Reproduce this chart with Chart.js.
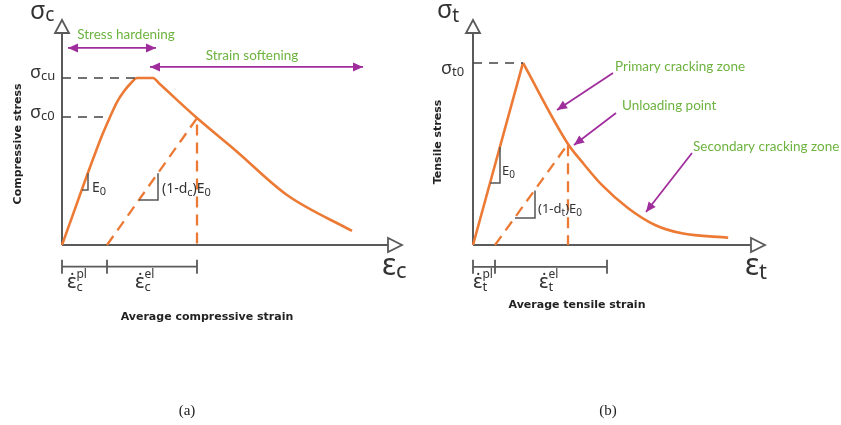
<!DOCTYPE html>
<html>
<head>
<meta charset="utf-8">
<title>Concrete damaged plasticity - stress/strain</title>
<script src="https://cdn.jsdelivr.net/npm/chart.js@4.4.3/dist/chart.umd.js"></script>
<style>
    html, body { margin: 0; padding: 0; background: #fff; }
    #wrap { position: relative; width: 841px; height: 425px; overflow: hidden; }
    #chartA { position: absolute; left: 0; top: 0; }
    #chartB { position: absolute; left: 420px; top: 0; }
</style>
</head>
<body>
<div id="wrap">
    <canvas id="chartA" width="420" height="425"></canvas>
    <canvas id="chartB" width="421" height="425"></canvas>
</div>

<script>
    // (a) compression, stress normalised so sigma_cu = 1
    const compStrain = [0, 0.80, 0.96, 1.10, 1.24, 1.38, 1.50, 1.82, 1.95, 2.70, 3.46, 4.50, 5.80];
    const compStress = [0, 0.655, 0.766, 0.856, 0.920, 0.970, 1.0, 1.0, 0.965, 0.760, 0.569, 0.299, 0.084];
    const compUnloadStrain = [0.9, 2.7, 2.7];
    const compUnloadStress = [0, 0.76, 0];
    const sigmaCu = 1.0;
    const sigmaC0 = 0.766;

    // (b) tension, stress normalised so sigma_t0 = 1
    const tensRiseStrain = [0, 1.25];
    const tensRiseStress = [0, 1.0];
    const tensSoftStrain = [1.25, 2.375, 2.72, 3.22, 3.88, 4.55, 5.22, 6.38];
    const tensSoftStress = [1.0, 0.555, 0.458, 0.330, 0.202, 0.110, 0.064, 0.040];
    const tensUnloadStrain = [0.55, 2.375, 2.375];
    const tensUnloadStress = [0, 0.555, 0];
    const sigmaT0 = 1.0;

    const ORANGE = '#EC7A35';
    const PURPLE = '#A02D9C';
    const GREEN = '#6DB33F';
    const AXIS = '#5a5a5a';
    const INK = '#333';

    function pts(xs, ys) {
        return xs.map((x, i) => ({ x: x, y: ys[i] }));
    }

    // draw a run of text pieces (base, sub, sup) left to right
    function runs(ctx, x, y, list, color) {
        ctx.fillStyle = color || INK;
        ctx.textAlign = 'left';
        ctx.textBaseline = 'alphabetic';
        let cx = x, lastX = x;
        list.forEach(r => {
            ctx.font = (r.w || '') + ' ' + r.s + 'px "Noto Sans"';
            const startX = r.stack ? lastX : cx;
            ctx.fillText(r.t, startX, y + (r.dy || 0));
            lastX = startX;
            cx = Math.max(cx, startX + ctx.measureText(r.t).width);
        });
    }

    function arrowHead(ctx, x1, y1, x2, y2) {
        const a = Math.atan2(y2 - y1, x2 - x1);
        const len = 10, hw = 4.5;
        ctx.beginPath();
        ctx.moveTo(x2, y2);
        ctx.lineTo(x2 - len * Math.cos(a) + hw * Math.sin(a), y2 - len * Math.sin(a) - hw * Math.cos(a));
        ctx.lineTo(x2 - len * Math.cos(a) - hw * Math.sin(a), y2 - len * Math.sin(a) + hw * Math.cos(a));
        ctx.closePath();
        ctx.fill();
    }

    function arrow(ctx, p, q, both) {
        ctx.strokeStyle = PURPLE;
        ctx.fillStyle = PURPLE;
        ctx.lineWidth = 1.8;
        ctx.beginPath();
        ctx.moveTo(p[0], p[1]);
        ctx.lineTo(q[0], q[1]);
        ctx.stroke();
        arrowHead(ctx, p[0], p[1], q[0], q[1]);
        if (both) arrowHead(ctx, q[0], q[1], p[0], p[1]);
    }

    // axes, slope triangles, bracket and labels, all placed through the scales
    const decorPlugin = {
        id: 'decor',
        beforeDatasetsDraw(chart) {
            const ctx = chart.ctx, xs = chart.scales.x, ys = chart.scales.y;
            const x0 = xs.getPixelForValue(0), y0 = ys.getPixelForValue(0);
            const xt = xs.getPixelForValue(xs.max), yt = ys.getPixelForValue(ys.max);
            ctx.save();
            ctx.strokeStyle = AXIS;
            ctx.lineWidth = 2;
            ctx.beginPath();
            ctx.moveTo(x0, y0);
            ctx.lineTo(x0, yt + 13);
            ctx.moveTo(x0, y0);
            ctx.lineTo(xt - 14, y0);
            ctx.stroke();
            ctx.fillStyle = '#fff';
            ctx.lineWidth = 1.8;
            ctx.beginPath();
            ctx.moveTo(x0, yt);
            ctx.lineTo(x0 - 7, yt + 13);
            ctx.lineTo(x0 + 7, yt + 13);
            ctx.closePath();
            ctx.fill();
            ctx.stroke();
            ctx.beginPath();
            ctx.moveTo(xt, y0);
            ctx.lineTo(xt - 14, y0 - 7);
            ctx.lineTo(xt - 14, y0 + 7);
            ctx.closePath();
            ctx.fill();
            ctx.stroke();
            ctx.restore();
        },
        afterDatasetsDraw(chart, args, opts) {
            const ctx = chart.ctx, xs = chart.scales.x, ys = chart.scales.y;
            const P = (x, y) => [xs.getPixelForValue(x), ys.getPixelForValue(y)];
            ctx.save();

            // slope triangles
            ctx.strokeStyle = '#555';
            ctx.lineWidth = 1.5;
            opts.triangles.forEach(tri => {
                ctx.beginPath();
                tri.forEach((p, i) => {
                    const q = P(p[0], p[1]);
                    if (i === 0) ctx.moveTo(q[0], q[1]); else ctx.lineTo(q[0], q[1]);
                });
                ctx.stroke();
            });

            // strain bracket under the axis
            const b = opts.bracket;
            const by = ys.getPixelForValue(b.y);
            ctx.strokeStyle = AXIS;
            ctx.lineWidth = 1.8;
            ctx.beginPath();
            ctx.moveTo(xs.getPixelForValue(b.ticks[0]), by);
            ctx.lineTo(xs.getPixelForValue(b.ticks[b.ticks.length - 1]), by);
            b.ticks.forEach(t => {
                const tx = xs.getPixelForValue(t);
                ctx.moveTo(tx, by - 7);
                ctx.lineTo(tx, by + 7);
            });
            ctx.stroke();

            // symbol labels
            opts.symbols.forEach(s => {
                const q = P(s.at[0], s.at[1]);
                runs(ctx, q[0], q[1], s.runs);
            });

            // purple arrows
            opts.arrows.forEach(a => {
                arrow(ctx, P(a.from[0], a.from[1]), P(a.to[0], a.to[1]), a.both);
            });

            // green notes
            ctx.fillStyle = GREEN;
            ctx.font = '13.5px Lato';
            ctx.textBaseline = 'middle';
            opts.notes.forEach(n => {
                const q = P(n.at[0], n.at[1]);
                ctx.textAlign = n.align || 'left';
                ctx.fillText(n.text, q[0], q[1]);
            });

            // axis titles
            ctx.fillStyle = '#222';
            ctx.font = 'bold 11px "DejaVu Sans"';
            ctx.textAlign = 'center';
            let q = P(opts.xTitle.at[0], opts.xTitle.at[1]);
            ctx.fillText(opts.xTitle.text, q[0], q[1]);
            q = P(opts.yTitle.at[0], opts.yTitle.at[1]);
            ctx.save();
            ctx.translate(q[0], q[1]);
            ctx.rotate(-Math.PI / 2);
            ctx.fillText(opts.yTitle.text, 0, 0);
            ctx.restore();

            // panel caption
            ctx.fillStyle = '#222';
            ctx.font = '15px "Liberation Serif"';
            q = P(opts.caption.at[0], opts.caption.at[1]);
            ctx.fillText(opts.caption.text, q[0], q[1]);

            ctx.restore();
        }
    };

    const curve = (data, mono) => ({
        data: data, showLine: true, pointRadius: 0, borderColor: ORANGE, borderWidth: 2.6,
        cubicInterpolationMode: mono ? 'monotone' : 'default', tension: 0, clip: false
    });
    const dashed = (data, color, width, dash) => ({
        data: data, showLine: true, pointRadius: 0, borderColor: color, borderWidth: width,
        borderDash: dash, clip: false
    });

    const EPS_DOT = 'ε\u0307';

    // ---------- (a) compression ----------
    new Chart(document.getElementById('chartA'), {
        type: 'scatter',
        data: {
            datasets: [
                dashed(pts([0, 1.5], [sigmaCu, sigmaCu]), '#444', 1.6, [9, 7]),
                dashed(pts([0, 0.95], [sigmaC0, sigmaC0]), '#444', 1.6, [9, 7]),
                dashed(pts(compUnloadStrain, compUnloadStress), ORANGE, 2.3, [11, 7]),
                curve(pts(compStrain, compStress), true)
            ]
        },
        options: {
            responsive: false,
            animation: false,
            layout: { padding: { left: 62, right: 18, top: 20, bottom: 180 } },
            scales: {
                x: { type: 'linear', display: false, min: 0, max: 6.8 },
                y: { type: 'linear', display: false, min: 0, max: 1.347 }
            },
            plugins: {
                legend: { display: false },
                tooltip: { enabled: false },
                decor: {
                    triangles: [
                        [[0.40, 0.33], [0.52, 0.33], [0.52, 0.43]],
                        [[1.54, 0.27], [1.92, 0.27], [1.92, 0.43]]
                    ],
                    bracket: { y: -0.13, ticks: [0, compUnloadStrain[0], compUnloadStrain[1]] },
                    symbols: [
                        { at: [-0.64, 1.353], runs: [{ t: 'σ', s: 25 }, { t: 'c', s: 19, dy: 2 }] },
                        { at: [-0.64, 1.0], runs: [{ t: 'σ', s: 18 }, { t: 'cu', s: 13, dy: 2 }] },
                        { at: [-0.64, 0.76], runs: [{ t: 'σ', s: 18 }, { t: 'c0', s: 13, dy: 2 }] },
                        { at: [0.6, 0.317], runs: [{ t: 'E', s: 14 }, { t: '0', s: 11, dy: 3 }] },
                        { at: [2.0, 0.311], runs: [{ t: '(1-d', s: 14 }, { t: 'c', s: 11, dy: 3 }, { t: ')E', s: 14 }, { t: '0', s: 11, dy: 3 }] },
                        { at: [0.1, -0.257], runs: [{ t: EPS_DOT, s: 20 }, { t: 'c', s: 13, dy: 3 }, { t: 'pl', s: 12, dy: -10, stack: true }] },
                        { at: [1.46, -0.257], runs: [{ t: EPS_DOT, s: 20 }, { t: 'c', s: 13, dy: 3 }, { t: 'el', s: 12, dy: -10, stack: true }] },
                        { at: [6.4, -0.18], runs: [{ t: 'ε', s: 30 }, { t: 'c', s: 22, dy: 3 }] }
                    ],
                    arrows: [
                        { from: [0.12, 1.18], to: [1.88, 1.18], both: true },
                        { from: [1.76, 1.066], to: [6.02, 1.066], both: true }
                    ],
                    notes: [
                        { text: 'Stress hardening', at: [1.28, 1.257], align: 'center' },
                        { text: 'Strain softening', at: [3.8, 1.132], align: 'center' }
                    ],
                    xTitle: { text: 'Average compressive strain', at: [2.9, -0.43] },
                    yTitle: { text: 'Compressive stress', at: [-0.88, 0.605] },
                    caption: { text: '(a)', at: [2.5, -0.995] }
                }
            }
        },
        plugins: [decorPlugin]
    });

    // ---------- (b) tension ----------
    new Chart(document.getElementById('chartB'), {
        type: 'scatter',
        data: {
            datasets: [
                dashed(pts([0, 1.25], [sigmaT0, sigmaT0]), '#444', 1.6, [9, 7]),
                dashed(pts(tensUnloadStrain, tensUnloadStress), ORANGE, 2.3, [11, 7]),
                curve(pts(tensRiseStrain, tensRiseStress), false),
                curve(pts(tensSoftStrain, tensSoftStress), true)
            ]
        },
        options: {
            responsive: false,
            animation: false,
            layout: { padding: { left: 53, right: 76, top: 20, bottom: 180 } },
            scales: {
                x: { type: 'linear', display: false, min: 0, max: 7.3 },
                y: { type: 'linear', display: false, min: 0, max: 1.236 }
            },
            plugins: {
                legend: { display: false },
                tooltip: { enabled: false },
                decor: {
                    triangles: [
                        [[0.43, 0.341], [0.675, 0.341], [0.675, 0.538]],
                        [[1.05, 0.148], [1.55, 0.148], [1.55, 0.30]]
                    ],
                    bracket: { y: -0.12, ticks: [0, tensUnloadStrain[0], 3.35] },
                    symbols: [
                        { at: [-0.9, 1.247], runs: [{ t: 'σ', s: 25 }, { t: 't', s: 19, dy: 4 }] },
                        { at: [-0.8, 0.94], runs: [{ t: 'σ', s: 18 }, { t: 't0', s: 13, dy: 2 }] },
                        { at: [0.725, 0.385], runs: [{ t: 'E', s: 13 }, { t: '0', s: 10, dy: 3 }] },
                        { at: [1.625, 0.176], runs: [{ t: '(1-d', s: 13 }, { t: 't', s: 10, dy: 3 }, { t: ')E', s: 13 }, { t: '0', s: 10, dy: 3 }] },
                        { at: [0.0, -0.236], runs: [{ t: EPS_DOT, s: 20 }, { t: 't', s: 13, dy: 3 }, { t: 'pl', s: 12, dy: -10, stack: true }] },
                        { at: [1.65, -0.236], runs: [{ t: EPS_DOT, s: 20 }, { t: 't', s: 13, dy: 3 }, { t: 'el', s: 12, dy: -10, stack: true }] },
                        { at: [6.8, -0.165], runs: [{ t: 'ε', s: 30 }, { t: 't', s: 22, dy: 4 }] }
                    ],
                    arrows: [
                        { from: [3.5, 0.945], to: [2.1, 0.742] },
                        { from: [3.575, 0.725], to: [2.525, 0.549] },
                        { from: [5.475, 0.505], to: [4.325, 0.181] }
                    ],
                    notes: [
                        { text: 'Primary cracking zone', at: [3.55, 0.978] },
                        { text: 'Unloading point', at: [3.725, 0.764] },
                        { text: 'Secondary cracking zone', at: [5.5, 0.538] }
                    ],
                    xTitle: { text: 'Average tensile strain', at: [2.6, -0.33] },
                    yTitle: { text: 'Tensile stress', at: [-0.88, 0.566] },
                    caption: { text: '(b)', at: [3.375, -0.914] }
                }
            }
        },
        plugins: [decorPlugin]
    });
</script>
</body>
</html>
